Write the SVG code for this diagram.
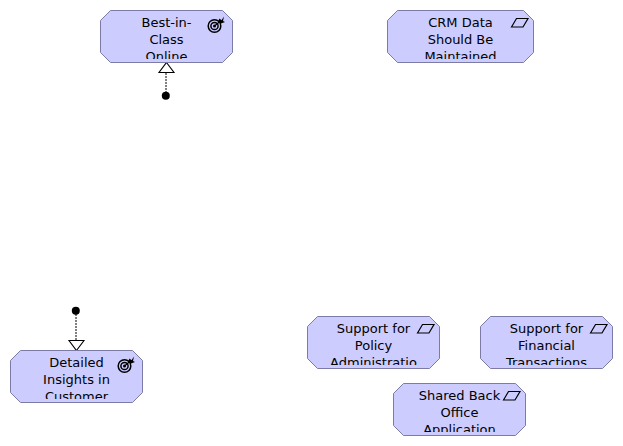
<svg xmlns="http://www.w3.org/2000/svg" width="623" height="446" viewBox="0 0 623 446">
<style>
.box{fill:#ccccff;stroke:#7b7ba6;stroke-width:1}
.lbl{font-family:"DejaVu Sans",sans-serif;font-size:13px;fill:#000;text-anchor:middle}
.ico{fill:none;stroke:#000;stroke-width:1.2}
.ring{fill:none;stroke:#000;stroke-width:1.5}
.conn{fill:none;stroke:#000;stroke-width:1;stroke-dasharray:2 1}
.head{fill:#fff;stroke:#000;stroke-width:1.1}
</style>
<defs>
<path id="shape" d="M10 0H122L132 10V42L122 52H10L0 42V10Z"/>
<clipPath id="c"><rect x="0" y="0" width="146" height="49"/></clipPath>
<g id="goal">
<circle cx="0" cy="0" r="6.3" class="ring"/>
<circle cx="0" cy="0" r="3.6" class="ring"/>
<circle cx="0" cy="0" r="1.5" fill="#000"/>
<path d="M0 0L6-5" class="ico"/>
<path d="M3.500-4.500L5-7.500L7-5.800L9.500-9.500L8.500-5L10.500-4L6.500-2.500Z" fill="#000"/>
</g>
<path id="req" d="M0 8.500L5 0H16.500L11.500 8.500Z" class="ico"/>
</defs>
<g id="connectors">
<path class="conn" d="M166 96V73"/>
<path class="head" d="M166.500 62.500L174 72.500H159Z"/>
<circle cx="165.800" cy="95.800" r="4" fill="#000"/>
<path class="conn" d="M76 311V340"/>
<path class="head" d="M76.500 350.500L84 340.500H69Z"/>
<circle cx="75.800" cy="310.800" r="4" fill="#000"/>
</g>
<g id="node-best-in-class">
<use href="#shape" class="box" x="100.500" y="10.500"/>
<use href="#goal" x="214.500" y="26"/>
<g transform="translate(100,10)" clip-path="url(#c)"><text class="lbl" x="66.500" y="17">Best-in-</text><text class="lbl" x="66.500" y="34">Class</text><text class="lbl" x="66.500" y="51">Online</text></g>
</g>
<g id="node-crm-data">
<path class="box" d="M397.500 10.500H523.500L533.500 20.500V52.500L523.500 62.500H397.500L387.500 52.500V20.500Z"/>
<use href="#req" x="511.500" y="18.500"/>
<g transform="translate(387,10)" clip-path="url(#c)"><text class="lbl" x="73.500" y="17">CRM Data</text><text class="lbl" x="73.500" y="34">Should Be</text><text class="lbl" x="73.500" y="51">Maintained</text></g>
</g>
<g id="node-detailed-insights">
<use href="#shape" class="box" x="10.500" y="350.500"/>
<use href="#goal" x="124.500" y="366"/>
<g transform="translate(10,350)" clip-path="url(#c)"><text class="lbl" x="66.500" y="17">Detailed</text><text class="lbl" x="66.500" y="34">Insights in</text><text class="lbl" x="66.500" y="51">Customer</text></g>
</g>
<g id="node-policy-admin">
<use href="#shape" class="box" x="307.500" y="316.500"/>
<use href="#req" x="417.500" y="324.500"/>
<g transform="translate(307,316)" clip-path="url(#c)"><text class="lbl" x="66.500" y="17">Support for</text><text class="lbl" x="66.500" y="34">Policy</text><text class="lbl" x="66.500" y="51">Administratio</text></g>
</g>
<g id="node-financial">
<use href="#shape" class="box" x="480.500" y="316.500"/>
<use href="#req" x="590.500" y="324.500"/>
<g transform="translate(480,316)" clip-path="url(#c)"><text class="lbl" x="66.500" y="17">Support for</text><text class="lbl" x="66.500" y="34">Financial</text><text class="lbl" x="66.500" y="51">Transactions</text></g>
</g>
<g id="node-shared-back-office">
<use href="#shape" class="box" x="393.500" y="383.500"/>
<use href="#req" x="503.500" y="391.500"/>
<g transform="translate(393,383)" clip-path="url(#c)"><text class="lbl" x="66.500" y="17">Shared Back</text><text class="lbl" x="66.500" y="34">Office</text><text class="lbl" x="66.500" y="51">Application</text></g>
</g>
</svg>
